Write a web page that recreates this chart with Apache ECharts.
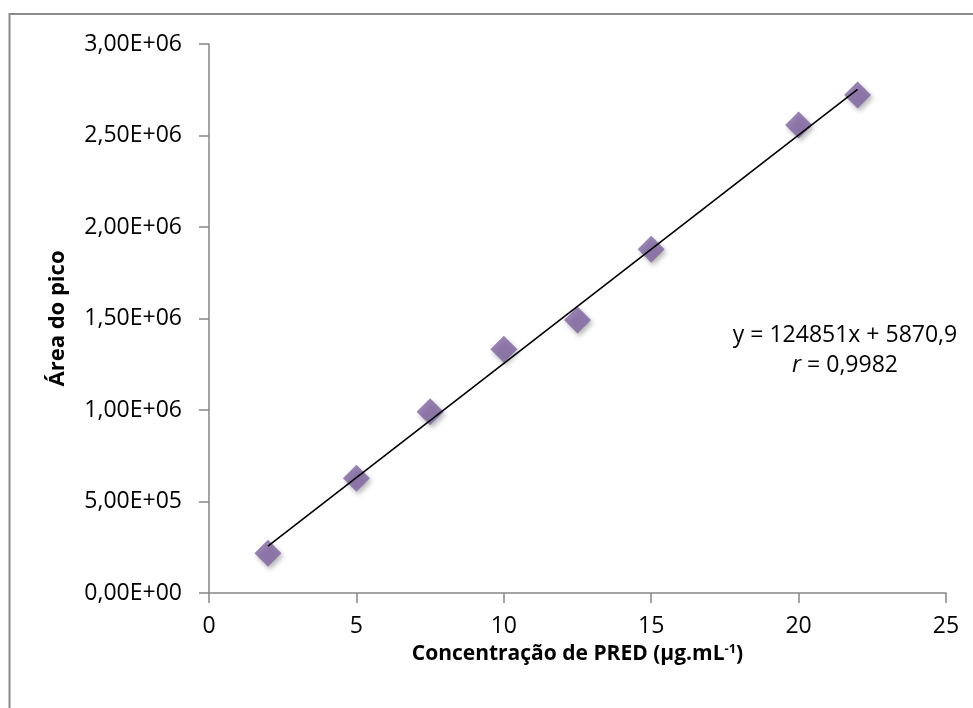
<!DOCTYPE html>
<html>
<head>
<meta charset="utf-8">
<title>Curva de calibração PRED</title>
<script src="https://cdn.jsdelivr.net/npm/echarts@6/dist/echarts.min.js"></script>
<style>
  html, body { margin: 0; padding: 0; background: #ffffff; }
  #chart { width: 973px; height: 708px; }
</style>
</head>
<body>
<div id="chart"></div>
<script>
// Concentração de PRED (µg/mL) e área do pico medida
const concentracoes = [2, 5, 7.5, 10, 12.5, 15, 20, 22];
const areas = [217000, 627000, 991000, 1332000, 1492000, 1878000, 2557000, 2721000];

// Regressão linear informada no gráfico
const inclinacao = 124851;
const intercepto = 5870.9;
const coefR = '0,9982';

// Rótulos dos eixos
const xTicks = [0, 5, 10, 15, 20, 25];
const yTickLabels = ['0,00E+00', '5,00E+05', '1,00E+06', '1,50E+06', '2,00E+06', '2,50E+06', '3,00E+06'];

const FONT = '"Open Sans", "Liberation Sans", sans-serif';
const AXIS_GRAY = '#868686';

const pontos = concentracoes.map((c, i) => [c, areas[i]]);
const xMin = concentracoes[0];
const xMax = concentracoes[concentracoes.length - 1];
const reta = [xMin, xMax].map(x => [x, inclinacao * x + intercepto]);

const equacao = 'y = ' + inclinacao + 'x + ' + String(intercepto).replace('.', ',');

const chart = echarts.init(document.getElementById('chart'), null, { renderer: 'canvas' });

chart.setOption({
  backgroundColor: '#ffffff',
  animation: false,
  grid: { left: 209, right: 27, top: 44, bottom: 115, containLabel: false },
  xAxis: {
    type: 'value',
    min: 0,
    max: 25,
    interval: 5,
    name: '{t|Concentração de PRED (µg.mL}{s|-1}{t|)}',
    nameLocation: 'middle',
    nameGap: 47,
    nameTextStyle: {
      rich: {
        t: { fontFamily: FONT, fontSize: 21, fontWeight: 'bold', color: '#000' },
        s: { fontFamily: FONT, fontSize: 13, fontWeight: 'bold', color: '#000', verticalAlign: 'top', padding: [0, 0, 10, 0] }
      }
    },
    axisLine: { show: true, onZero: false, lineStyle: { color: AXIS_GRAY, width: 1.5 } },
    axisTick: { show: true, inside: false, length: 10, lineStyle: { color: AXIS_GRAY, width: 1.5 } },
    axisLabel: {
      margin: 22,
      fontFamily: FONT,
      fontSize: 23,
      color: '#000',
      formatter: v => String(v)
    },
    splitLine: { show: false }
  },
  yAxis: {
    type: 'value',
    min: 0,
    max: 3000000,
    interval: 500000,
    name: 'Área do pico',
    nameLocation: 'middle',
    nameGap: 140,
    nameRotate: 90,
    nameTextStyle: { fontFamily: FONT, fontSize: 22, fontWeight: 'bold', color: '#000' },
    axisLine: { show: true, onZero: false, lineStyle: { color: AXIS_GRAY, width: 1.5 } },
    axisTick: { show: true, inside: false, length: 10, lineStyle: { color: AXIS_GRAY, width: 1.5 } },
    axisLabel: {
      margin: 27,
      fontFamily: FONT,
      fontSize: 23,
      color: '#000',
      formatter: (v, i) => yTickLabels[i]
    },
    splitLine: { show: false }
  },
  series: [
    {
      name: 'Área do pico',
      type: 'scatter',
      data: pontos,
      symbol: 'diamond',
      symbolSize: 27,
      itemStyle: {
        color: '#8064A2',
        shadowColor: 'rgba(0,0,0,0.35)',
        shadowBlur: 5,
        shadowOffsetX: 2,
        shadowOffsetY: 3
      },
      z: 2
    },
    {
      name: 'Linear',
      type: 'line',
      data: reta,
      showSymbol: false,
      symbol: 'none',
      silent: true,
      lineStyle: { color: '#000000', width: 1.6 },
      z: 3
    }
  ],
  graphic: [
    {
      type: 'rect',
      shape: { x: 9.5, y: 14, width: 1200, height: 1200 },
      style: { fill: 'none', stroke: '#8a8a8a', lineWidth: 2 },
      silent: true,
      z: 0
    },
    {
      type: 'text',
      x: 845,
      y: 350,
      style: {
        text: equacao + '\n{i|r} = ' + coefR,
        fontFamily: FONT,
        fontSize: 23,
        lineHeight: 30,
        fill: '#000',
        align: 'center',
        verticalAlign: 'middle',
        rich: {
          i: { fontFamily: FONT, fontSize: 23, fontStyle: 'italic', fill: '#000', lineHeight: 30 }
        }
      },
      z: 10
    }
  ]
});
</script>
</body>
</html>
